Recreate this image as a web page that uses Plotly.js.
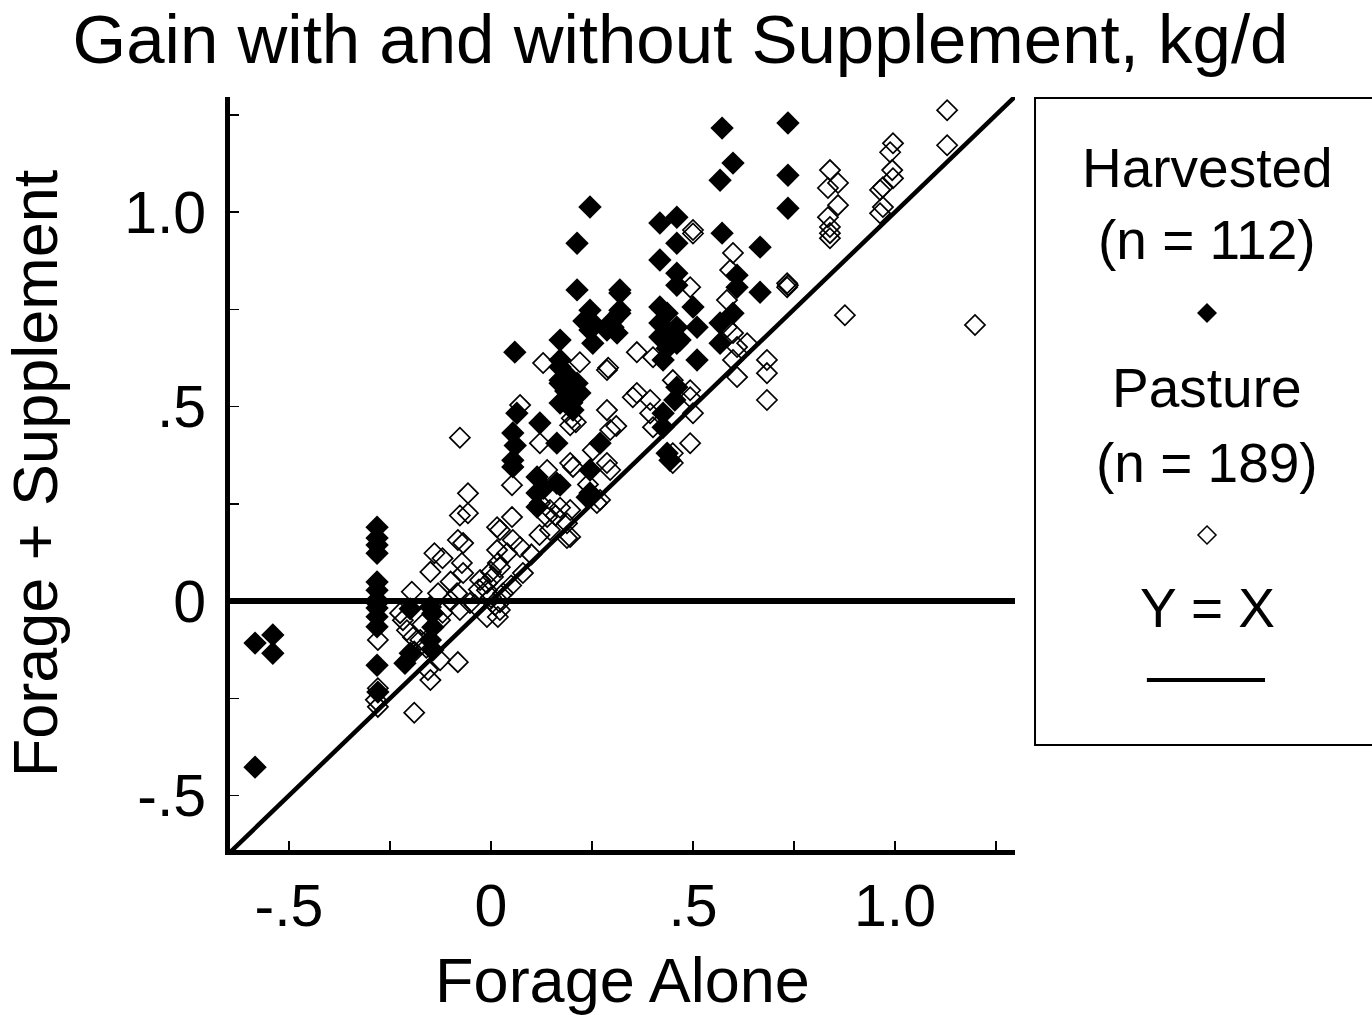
<!DOCTYPE html>
<html>
<head>
<meta charset="utf-8">
<script src="https://cdn.plot.ly/plotly-3.0.1.min.js"></script>
<style>
  html, body { margin: 0; padding: 0; background: #fff; }
  #chart { width: 1372px; height: 1015px; }
</style>
</head>
<body>
<div id="chart"></div>
<script>
// Daily gain (kg/d): forage alone (x) vs forage + supplement (y)
const harvested = [
  [-0.584,-0.108],[-0.540,-0.087],[-0.540,-0.134],[-0.584,-0.427],
  [-0.282,0.190],[-0.282,0.162],[-0.282,0.144],[-0.282,0.123],[-0.282,0.049],
  [-0.282,0.028],[-0.282,0.003],[-0.282,-0.018],[-0.282,-0.040],[-0.282,-0.066],
  [-0.282,-0.165],[-0.280,-0.234],[-0.213,-0.160],[-0.200,-0.134],[-0.200,-0.020],
  [-0.150,-0.015],[-0.144,-0.031],[-0.144,-0.067],[-0.150,-0.100],[-0.144,-0.126],
  [0.054,0.432],[0.064,0.483],[0.059,0.640],[0.054,0.362],[0.054,0.345],
  [0.114,0.319],[0.114,0.278],[0.114,0.242],[0.121,0.458],[0.163,0.406],
  [0.163,0.303],[0.171,0.671],[0.171,0.620],[0.171,0.602],[0.171,0.560],
  [0.171,0.509],[0.188,0.525],[0.213,0.560],[0.220,0.535],[0.171,0.568],
  [0.203,0.491],[0.213,0.800],[0.213,0.920],[0.245,1.013],[0.245,0.748],
  [0.245,0.697],[0.252,0.663],[0.252,0.715],[0.287,0.697],[0.302,0.704],
  [0.319,0.748],[0.319,0.800],[0.312,0.689],[0.319,0.740],[0.319,0.792],
  [0.270,0.406],[0.245,0.337],[0.245,0.278],[0.238,0.267],[0.171,0.298],
  [0.418,0.972],[0.460,0.987],[0.418,0.877],[0.460,0.920],[0.460,0.843],
  [0.460,0.812],[0.418,0.756],[0.418,0.715],[0.418,0.679],[0.426,0.620],
  [0.460,0.704],[0.460,0.663],[0.500,0.756],[0.510,0.704],[0.510,0.620],
  [0.460,0.550],[0.455,0.517],[0.426,0.483],[0.426,0.447],[0.436,0.380],
  [0.443,0.362],[0.468,0.671],[0.572,1.216],[0.735,1.229],[0.599,1.126],
  [0.567,1.082],[0.735,1.095],[0.735,1.010],[0.572,0.946],[0.666,0.910],
  [0.609,0.838],[0.609,0.807],[0.666,0.794],[0.599,0.740],[0.567,0.715],
  [0.567,0.663],[0.190,0.580],[0.200,0.550],[0.185,0.540],[0.230,0.720],
  [0.300,0.720],[0.436,0.740],[0.440,0.690],[0.200,0.510],[0.060,0.400],
  [0.130,0.290],[0.436,0.650],[-0.282,-0.005]
];

const pasture = [
  [-0.280,-0.100],[-0.280,-0.224],[-0.285,-0.254],[-0.280,-0.272],[-0.190,-0.287],
  [-0.196,0.024],[-0.140,0.123],[-0.150,0.075],[-0.150,-0.203],[-0.077,0.420],
  [-0.057,0.277],[-0.077,0.220],[-0.057,0.226],[-0.082,0.157],[-0.069,0.149],
  [-0.072,0.098],[-0.069,0.072],[-0.131,0.020],[-0.084,0.020],[-0.027,0.054],
  [-0.010,0.028],[0.022,0.183],[0.052,0.216],[0.052,0.298],[0.017,0.098],
  [0.005,0.062],[0.054,0.157],[0.072,0.139],[0.040,0.123],[-0.052,-0.005],
  [-0.077,-0.023],[-0.010,-0.041],[0.017,-0.041],[0.022,-0.003],[-0.218,-0.049],
  [-0.208,-0.075],[-0.193,-0.093],[-0.225,-0.031],[-0.082,-0.157],[-0.126,-0.152],
  [-0.156,-0.177],[0.129,0.612],[0.072,0.504],[0.220,0.614],[0.287,0.594],
  [0.361,0.640],[0.361,0.535],[0.287,0.491],[0.196,0.452],[0.121,0.406],
  [0.295,0.440],[0.252,0.388],[0.196,0.355],[0.287,0.355],[0.295,0.337],
  [0.139,0.337],[0.121,0.252],[0.146,0.234],[0.196,0.234],[0.015,0.190],
  [0.196,0.165],[0.262,0.252],[0.500,0.954],[0.493,0.807],[0.401,0.627],
  [0.599,0.895],[0.733,0.817],[0.733,0.807],[0.592,0.851],[0.584,0.774],
  [0.584,0.704],[0.599,0.689],[0.609,0.653],[0.634,0.663],[0.599,0.620],
  [0.609,0.576],[0.683,0.620],[0.683,0.586],[0.683,0.517],[0.351,0.524],
  [0.394,0.517],[0.394,0.483],[0.401,0.447],[0.493,0.542],[0.493,0.524],
  [0.500,0.483],[0.493,0.406],[0.450,0.355],[0.450,0.380],[0.450,0.568],
  [1.129,1.262],[1.129,1.172],[0.995,1.177],[0.988,1.154],[0.993,1.108],
  [0.995,1.087],[0.970,1.064],[0.963,1.057],[0.970,1.013],[0.963,0.997],
  [0.839,1.108],[0.859,1.075],[0.834,1.062],[0.859,1.018],[0.834,0.987],
  [0.839,0.962],[0.839,0.946],[0.839,0.933],[0.876,0.735],[1.198,0.710],
  [0.203,0.345],[0.139,0.216],[0.171,0.240],[0.188,0.200],[0.146,0.183],
  [0.188,0.162],[0.079,0.072],[-0.010,0.046],[0.022,-0.023],[0.270,0.260],
  [0.022,0.087],[0.015,0.131],[-0.170,-0.060],[-0.175,-0.100],[-0.160,-0.120],
  [-0.190,-0.130],[-0.126,-0.049],[-0.120,-0.030],[-0.100,0.000],[-0.030,0.030],
  [0.000,0.010],[0.030,0.020],[0.050,0.040],[-0.040,-0.010],[0.010,-0.010],
  [0.000,0.075],[-0.100,0.050],[-0.120,0.110],[0.100,0.120],[0.120,0.170],
  [0.160,0.220],[0.240,0.300],[0.310,0.450],[0.735,0.812],[0.200,0.470],
  [0.210,0.460],[0.290,0.600],[0.500,0.945]
];

// Y = X reference line end points
const identityEnds = [-0.645, 1.30];

const tickValues = [-0.5, -0.25, 0, 0.25, 0.5, 0.75, 1.0, 1.25];
const tickLabels = ['-.5', '', '0', '', '.5', '', '1.0', ''];

const legendText = ['Harvested', '(n = 112)', 'Pasture', '(n = 189)', 'Y = X'];

const FONT = 'Liberation Sans, Arial, Helvetica, sans-serif';

const traces = [
  {
    type: 'scatter', mode: 'lines',
    x: identityEnds, y: identityEnds,
    line: { color: '#000', width: 4.5 },
    hoverinfo: 'skip', showlegend: false
  },
  {
    type: 'scatter', mode: 'markers', name: 'Harvested',
    x: harvested.map(p => p[0]), y: harvested.map(p => p[1]),
    marker: { symbol: 'diamond', size: 18, color: '#000', line: { width: 0 } },
    showlegend: false, cliponaxis: false
  },
  {
    type: 'scatter', mode: 'markers', name: 'Pasture',
    x: pasture.map(p => p[0]), y: pasture.map(p => p[1]),
    marker: { symbol: 'diamond-open', size: 15.5, color: '#000', line: { width: 1.7, color: '#000' } },
    showlegend: false, cliponaxis: false
  }
];

// Legend box geometry, in paper units of the plotting area
const boxX0 = 1.0255, boxX1 = 1.47, boxY0 = 0.1394, boxY1 = 0.9987;
const legendCx = 1.2446;
const rowY = { h: 0.9057, hn: 0.8101, hm: 0.7131, p: 0.6135, pn: 0.5139, pm: 0.4183, yx: 0.3214, line: 0.2258 };

const legendFont = { family: FONT, size: 55, color: '#000' };
const annotations = [
  [legendText[0], rowY.h], [legendText[1], rowY.hn],
  [legendText[2], rowY.p], [legendText[3], rowY.pn],
  [legendText[4], rowY.yx]
].map(([t, y]) => ({
  text: t, xref: 'paper', yref: 'paper', x: legendCx, y: y,
  xanchor: 'center', yanchor: 'middle', showarrow: false, font: legendFont
}));

const shapes = [
  { type: 'rect', xref: 'paper', yref: 'paper', x0: boxX0, x1: boxX1, y0: boxY0, y1: boxY1,
    line: { color: '#000', width: 2 }, fillcolor: 'rgba(0,0,0,0)' },
  { type: 'path', xref: 'paper', yref: 'paper', xsizemode: 'pixel', ysizemode: 'pixel',
    xanchor: legendCx, yanchor: rowY.hm, path: 'M0,10 L10,0 L0,-10 L-10,0 Z',
    fillcolor: '#000', line: { width: 0 } },
  { type: 'path', xref: 'paper', yref: 'paper', xsizemode: 'pixel', ysizemode: 'pixel',
    xanchor: legendCx, yanchor: rowY.pm, path: 'M0,9 L9,0 L0,-9 L-9,0 Z',
    fillcolor: 'rgba(0,0,0,0)', line: { color: '#000', width: 1.5 } },
  { type: 'line', xref: 'paper', yref: 'paper', x0: 1.168, x1: 1.3185, y0: rowY.line, y1: rowY.line,
    line: { color: '#000', width: 4 } }
];

const axisCommon = {
  tickmode: 'array', tickvals: tickValues, ticktext: tickLabels,
  ticks: 'inside', ticklen: 9, tickwidth: 1.5, tickcolor: '#000',
  showline: true, linecolor: '#000', linewidth: 5,
  showgrid: false, mirror: false,
  tickfont: { family: FONT, size: 59, color: '#000' }
};

const layout = {
  width: 1372, height: 1015,
  paper_bgcolor: '#fff', plot_bgcolor: '#fff',
  margin: { l: 230, r: 357, t: 97, b: 165 },
  title: {
    text: 'Gain with and without Supplement, kg/d',
    font: { family: FONT, size: 69, color: '#000' },
    xref: 'container', x: 0.496, xanchor: 'center',
    yref: 'container', y: 0.962, yanchor: 'middle'
  },
  xaxis: Object.assign({}, axisCommon, {
    range: [-0.646, 1.297], zeroline: false,
    ticklabelstandoff: 0,
    title: { text: 'Forage Alone', font: { family: FONT, size: 63, color: '#000' }, standoff: 40 }
  }),
  yaxis: Object.assign({}, axisCommon, {
    range: [-0.640, 1.296], zeroline: true, zerolinecolor: '#000', zerolinewidth: 6,
    ticklabelstandoff: 7,
    title: { text: 'Forage + Supplement', font: { family: FONT, size: 63, color: '#000' }, standoff: 50 }
  }),
  annotations: annotations,
  shapes: shapes,
  showlegend: false
};

Plotly.newPlot('chart', traces, layout, { staticPlot: true, displayModeBar: false });
</script>
</body>
</html>
